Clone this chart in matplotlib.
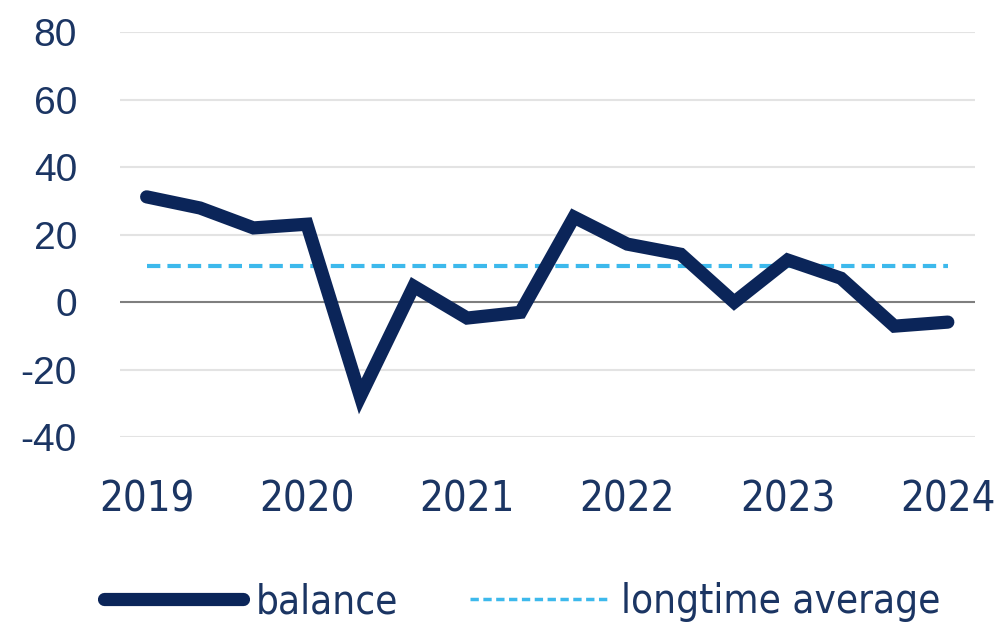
import matplotlib
matplotlib.use("Agg")
import matplotlib.pyplot as plt
from matplotlib import font_manager
from matplotlib.font_manager import FontProperties
from matplotlib.lines import Line2D

# quarterly balance, 2019 to 2024 (labels every third point)
balance = [31.2, 27.9, 22.0, 23.1, -27.9, 4.7, -4.7, -3.0,
           25.2, 17.2, 14.2, 0.0, 12.5, 7.1, -7.1, -5.9]
longtime_average = 10.7
year_labels = ["2019", "2020", "2021", "2022", "2023", "2024"]
y_ticks = [-40, -20, 0, 20, 40, 60, 80]
series_names = ["balance", "longtime average"]

navy = "#0b2559"
light_blue = "#3db9ec"
text_col = "#1b3563"

names = {f.name for f in font_manager.fontManager.ttflist}
regular = "Liberation Sans" if "Liberation Sans" in names else "DejaVu Sans"
if "Liberation Sans Narrow" in names:
    narrow = FontProperties(family="Liberation Sans Narrow", size=30)
else:
    narrow = FontProperties(family="DejaVu Sans", stretch="condensed", size=30)
narrow_leg = narrow.copy()
narrow_leg.set_size(29)

fig = plt.figure(figsize=(10.03, 6.3), dpi=100)
ax = fig.add_axes([0.1196, 0.306, 0.852, 0.643])

x = list(range(len(balance)))
ax.plot(x, balance, color=navy, lw=9.5, solid_joinstyle="miter",
        solid_capstyle="round", zorder=3)
ax.plot([x[0], x[-1]], [longtime_average] * 2, color=light_blue, lw=3,
        dashes=(3.2, 1.7), zorder=2)

for t in y_ticks:
    if t == 0:
        ax.axhline(0, color="#7f7f7f", lw=1.5, zorder=1)
    else:
        ax.axhline(t, color="#e3e3e3", lw=1.5, zorder=0)

ax.set_xlim(-0.5, 15.5)
ax.set_ylim(-40, 80)
ax.set_yticks(y_ticks)
ax.set_yticklabels([str(t) for t in y_ticks], fontsize=28, color=text_col,
                   family=regular)
ax.set_xticks(x[::3])
ax.set_xticklabels(year_labels, color=text_col, fontproperties=narrow)
ax.tick_params(axis="y", length=0, pad=31)
ax.tick_params(axis="x", length=0, pad=30)
for s in ax.spines.values():
    s.set_visible(False)

handles = [Line2D([], [], color=navy, lw=9.5, solid_capstyle="round"),
           Line2D([], [], color=light_blue, lw=2.5, dashes=(2.4, 1.3))]
leg = fig.legend(handles, series_names, loc="lower left",
                 bbox_to_anchor=(0.068, -0.045), ncol=2,
                 frameon=False, handlelength=3.45, handletextpad=0.3,
                 columnspacing=1.8, prop=narrow_leg)
for t in leg.get_texts():
    t.set_color(text_col)

fig.savefig("out.png", dpi=100)
